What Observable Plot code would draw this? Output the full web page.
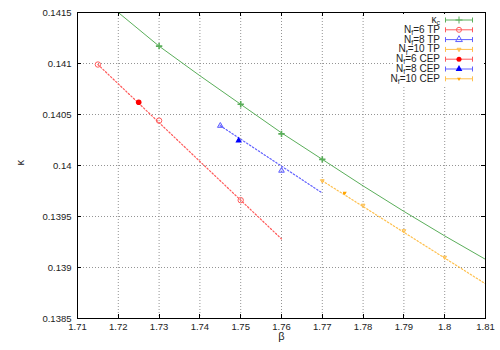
<!DOCTYPE html>
<html><head><meta charset="utf-8">
<script src="https://cdn.jsdelivr.net/npm/d3@7"></script>
<script src="https://cdn.jsdelivr.net/npm/@observablehq/plot@0.6"></script>
<style>body{margin:0;background:#fff}svg{font-family:"Liberation Sans",Arial,sans-serif}</style>
</head><body><div id="chart"></div>
<script>
// tick values
const xTicks = [1.71,1.72,1.73,1.74,1.75,1.76,1.77,1.78,1.79,1.80,1.81];
const yTicks = [0.1385,0.139,0.1395,0.14,0.1405,0.141,0.1415];

// kappa_c points and fit
const kcBeta = [1.73,1.75,1.76,1.77];
const kcKappa = [0.14117,0.14060,0.14031,0.14006];
const kcFitBeta = [1.72,1.73,1.74,1.75,1.76,1.77,1.78,1.79,1.80,1.81];
const kcFitKappa = [0.14150,0.14117,0.14088,0.14060,0.14032,0.14006,0.13980,0.13955,0.13931,0.13908];

// Nf=6
const tp6Beta = [1.715,1.73,1.75];
const tp6Kappa = [0.14099,0.14044,0.13966];
const fit6Beta = [1.715,1.76];
const fit6Kappa = [0.14099,0.13928];
const cep6Beta = [1.725];
const cep6Kappa = [0.14062];
const cep6Err = [0.0004];

// Nf=8
const tp8Beta = [1.745,1.76];
const tp8Kappa = [0.14039,0.13995];
const fit8Beta = [1.745,1.77];
const fit8Kappa = [0.14039,0.13973];
const cep8Beta = [1.7495];
const cep8Kappa = [0.140245];
const cep8Err = [0.0003];

// Nf=10
const tp10Beta = [1.77,1.78,1.79,1.80];
const tp10Kappa = [0.13985,0.13961,0.13936,0.13910];
const fit10Beta = [1.77,1.81];
const fit10Kappa = [0.13985,0.13884];
const cep10Beta = [1.7755];
const cep10Kappa = [0.13973];
const cep10Err = [0.0003];

const legendLabels = ["κ_c","N_f=6 TP","N_f=8 TP","N_f=10 TP","N_f=6 CEP","N_f=8 CEP","N_f=10 CEP"];

const C = {green:"#5aae5a", red:"#ff5a5a", blue:"#6060ff", orange:"#ffc04d",
           redF:"#ff0000", blueF:"#0000ff", orangeF:"#ffa500"};

const triDown = {draw(ctx, size){const t=Math.sqrt(size/(3*Math.sqrt(3)/4)); const h=t*Math.sqrt(3)/2;
  ctx.moveTo(0,h*2/3); ctx.lineTo(t/2,-h/3); ctx.lineTo(-t/2,-h/3); ctx.closePath();}};

const pts = (b,k)=>b.map((v,i)=>({b:v,k:k[i]}));
const errs = (b,k,e)=>b.map((v,i)=>({b:v,k:k[i],e:e[i]}));

const plot = Plot.plot({
  width:500, height:350,
  marginLeft:77, marginRight:15, marginTop:12, marginBottom:32,
  style:{fontSize:"9px", fontFamily:"'Liberation Sans', Arial, sans-serif", color:"#222"},
  x:{domain:[1.71,1.81]},
  y:{domain:[0.1385,0.1415]},
  marks:[
    Plot.gridX(xTicks,{stroke:"#888", strokeOpacity:0.9, strokeDasharray:"1,2"}),
    Plot.gridY(yTicks,{stroke:"#888", strokeOpacity:0.9, strokeDasharray:"1,2"}),
    Plot.axisX(xTicks,{tickSize:0, tickPadding:5, tickFormat:d=>String(d), fontSize:9.5, label:null}),
    Plot.axisY(yTicks,{tickSize:0, tickPadding:6, tickFormat:d=>String(d), fontSize:9.5, label:null}),
    Plot.text(["β"],{frameAnchor:"bottom", dy:21, fontSize:11}),
    Plot.text(["κ"],{frameAnchor:"left", dx:-57, rotate:-90, fontSize:11}),
    // fits
    Plot.line(pts(kcFitBeta,kcFitKappa),{x:"b",y:"k",stroke:C.green,strokeWidth:1,clip:true}),
    Plot.line(pts(fit6Beta,fit6Kappa),{x:"b",y:"k",stroke:C.red,strokeWidth:1.2,strokeDasharray:"1.5,2"}),
    Plot.line(pts(fit8Beta,fit8Kappa),{x:"b",y:"k",stroke:C.blue,strokeWidth:1.2,strokeDasharray:"1.5,2"}),
    Plot.line(pts(fit10Beta,fit10Kappa),{x:"b",y:"k",stroke:C.orange,strokeWidth:1.2,strokeDasharray:"1.5,2"}),
    // points
    Plot.dot(pts(kcBeta,kcKappa),{x:"b",y:"k",symbol:"plus",r:2.2,stroke:C.green,strokeWidth:1.6}),
    Plot.dot(pts(tp6Beta,tp6Kappa),{x:"b",y:"k",symbol:"circle",r:2.7,stroke:C.red,strokeWidth:1}),
    Plot.dot(pts(tp8Beta,tp8Kappa),{x:"b",y:"k",symbol:"triangle",r:2.1,stroke:C.blue,fill:C.blue,fillOpacity:0.25,strokeWidth:1}),
    Plot.dot(pts(tp10Beta,tp10Kappa),{x:"b",y:"k",symbol:triDown,r:2.4,stroke:C.orange,fill:C.orange,fillOpacity:0.5,strokeWidth:1}),
    Plot.ruleY(errs(cep6Beta,cep6Kappa,cep6Err),{y:"k",x1:d=>d.b-d.e,x2:d=>d.b+d.e,stroke:C.redF,strokeWidth:2}),
    Plot.ruleY(errs(cep8Beta,cep8Kappa,cep8Err),{y:"k",x1:d=>d.b-d.e,x2:d=>d.b+d.e,stroke:C.blueF,strokeWidth:2}),
    Plot.ruleY(errs(cep10Beta,cep10Kappa,cep10Err),{y:"k",x1:d=>d.b-d.e,x2:d=>d.b+d.e,stroke:C.orangeF,strokeWidth:2}),
    Plot.dot(pts(cep6Beta,cep6Kappa),{x:"b",y:"k",symbol:"circle",r:2.8,fill:C.redF}),
    Plot.dot(pts(cep8Beta,cep8Kappa),{x:"b",y:"k",symbol:"triangle",r:2.4,fill:C.blueF}),
    Plot.dot(pts(cep10Beta,cep10Kappa),{x:"b",y:"k",symbol:triDown,r:2.6,fill:C.orangeF}),
    Plot.frame({stroke:"#000", strokeWidth:1})
  ]
});
document.getElementById("chart").append(plot);

// inward ticks on all four sides
const svg = d3.select(plot);
const sx = plot.scale("x"), sy = plot.scale("y");
const L = sx.apply(1.71), R = sx.apply(1.81), T = sy.apply(0.1415), B = sy.apply(0.1385);
const tg = svg.append("g").attr("stroke","#000").attr("stroke-width",1);
xTicks.forEach(v=>{const x=Math.round(sx.apply(v))+0.5;
  tg.append("line").attr("x1",x).attr("x2",x).attr("y1",B).attr("y2",B-4);
  tg.append("line").attr("x1",x).attr("x2",x).attr("y1",T).attr("y2",T+4);});
yTicks.forEach(v=>{const y=Math.round(sy.apply(v))+0.5;
  tg.append("line").attr("x1",L).attr("x2",L+4).attr("y1",y).attr("y2",y);
  tg.append("line").attr("x1",R).attr("x2",R-4).attr("y1",y).attr("y2",y);});

// legend
const lg = svg.append("g").attr("font-size",10).attr("font-family","'Liberation Sans', Arial, sans-serif");
lg.append("rect").attr("x",395).attr("y",14).attr("width",R-396).attr("height",72).attr("fill","#fff");
const legStyle = [
  {c:C.green, sym:d3.symbolPlus, fill:false},
  {c:C.red, sym:d3.symbolCircle, fill:false},
  {c:C.blue, sym:d3.symbolTriangle, fill:false},
  {c:C.orange, sym:triDown, fill:true, op:0.5},
  {c:C.redF, sym:d3.symbolCircle, fill:true},
  {c:C.blueF, sym:d3.symbolTriangle, fill:true},
  {c:C.orangeF, sym:triDown, fill:true}
];
legendLabels.forEach((lab,i)=>{
  const y = 20 + i*9.8;
  const t = lg.append("text").attr("x",440).attr("y",y).attr("dy","0.3em").attr("text-anchor","end").attr("fill","#222");
  const [main,rest] = lab.split("_");
  t.append("tspan").text(main);
  t.append("tspan").attr("dy",2.2).attr("font-size",7).text(rest[0]);
  if(rest.length>1) t.append("tspan").attr("dy",-2.2).text(rest.slice(1));
  const s = legStyle[i];
  const lc = (i>=4)? legStyle[i-3].c : s.c;
  lg.append("line").attr("x1",445).attr("x2",473).attr("y1",y).attr("y2",y).attr("stroke",lc).attr("stroke-width",1);
  lg.append("line").attr("x1",445.5).attr("x2",445.5).attr("y1",y-2.5).attr("y2",y+2.5).attr("stroke",lc);
  lg.append("line").attr("x1",472.5).attr("x2",472.5).attr("y1",y-2.5).attr("y2",y+2.5).attr("stroke",lc);
  const p = lg.append("path").attr("transform",`translate(459,${y})`).attr("d",d3.symbol(s.sym, i===0?18:20)());
  if(s.fill){p.attr("fill",s.c).attr("fill-opacity",s.op||1).attr("stroke",s.op?s.c:"none");}
  else {p.attr("fill","none").attr("stroke",s.c).attr("stroke-width",1);}
});
</script></body></html>
